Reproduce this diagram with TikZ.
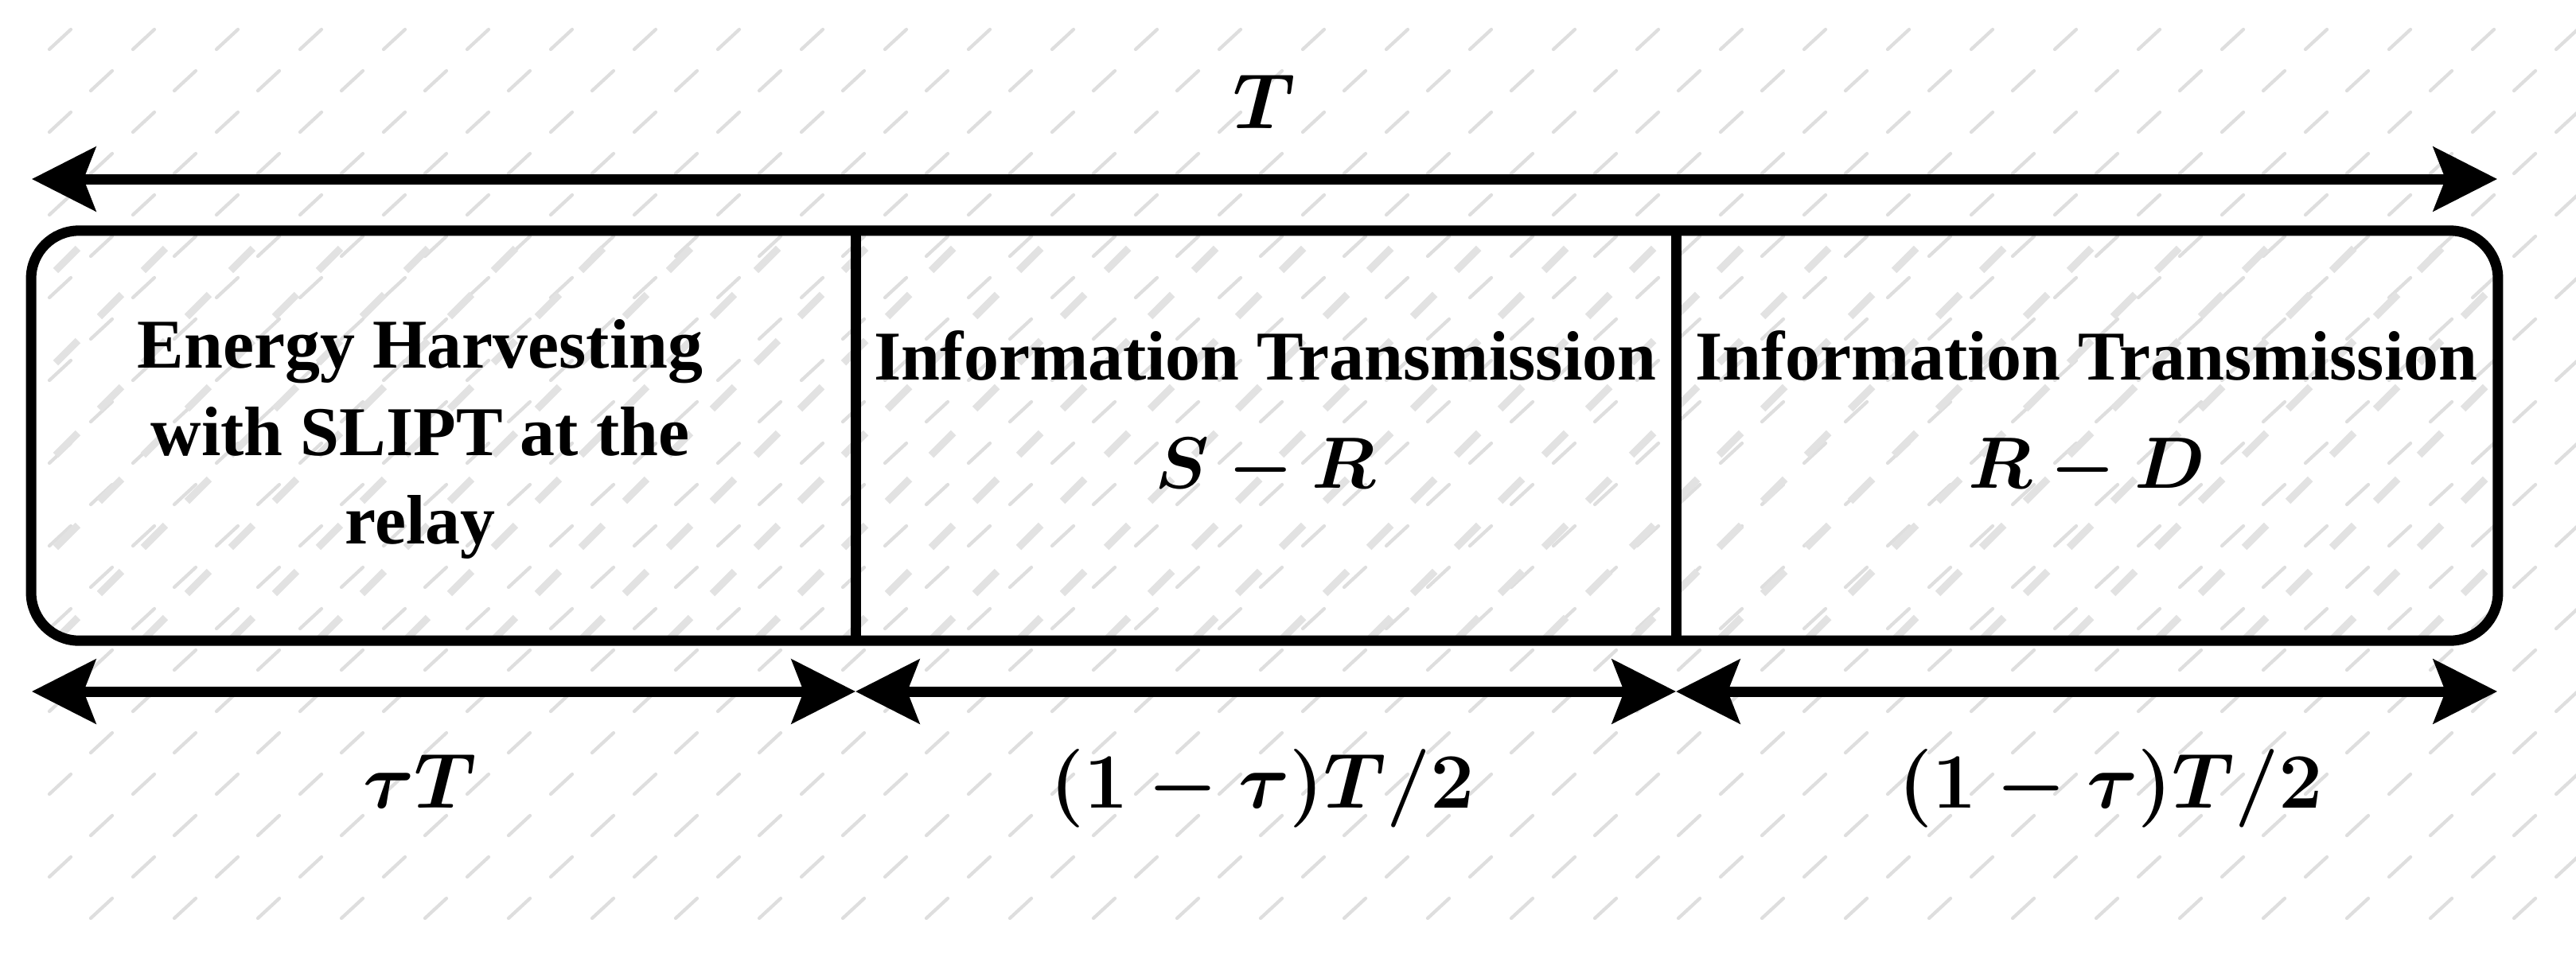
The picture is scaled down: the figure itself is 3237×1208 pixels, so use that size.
\RequirePackage{fix-cm}
\documentclass[tikz,border=0pt]{standalone}
\usepackage{fontspec}
\setmainfont{Liberation Serif}
\usetikzlibrary{arrows.meta}
\definecolor{hatch}{RGB}{222,222,222}
\definecolor{hatchin}{RGB}{226,226,226}
\begin{document}
\begin{tikzpicture}[x=0.01cm,y=-0.01cm,
  tipA/.tip={Stealth[length=0.8cm,width=0.8cm,inset=0.15cm]},
  dimline/.style={line width=3.7pt,tipA-tipA},
  frameline/.style={line width=3.7pt},
  lbl/.style={font=\bfseries\fontsize{25}{30}\selectfont, inner sep=0pt, anchor=base},
  mathlbl/.style={font=\fontsize{28}{34}\selectfont\boldmath, inner sep=0pt, anchor=base},
  boxmath/.style={font=\fontsize{26}{31}\selectfont\boldmath, inner sep=0pt, anchor=base},
  thinhatch/.style={draw=hatch, line width=1.2pt, line cap=round},
  thickhatch/.style={draw=hatchin, line width=2.6pt},
]
\useasboundingbox (0,0) rectangle (3237,1208);
\fill[white] (0,0) rectangle (3237,1208);
% background hatch
\foreach \i in {0,...,21} {
  \pgfmathsetmacro{\yy}{62+52*\i}
  \pgfmathsetmacro{\xo}{mod(\i,2)*52}
  \foreach \j in {0,...,30} {
    \draw[thinhatch] ({62+\xo+105*\j},\yy) -- ++(27,-25);
  }
}
% denser hatch inside the frame
\begin{scope}
  \clip[rounded corners=0.6cm] (40,290) rectangle (3138,805);
  \foreach \k in {0,...,9} {
    \pgfmathsetmacro{\yy}{340+58*\k}
    \pgfmathsetmacro{\xo}{mod(\k,2)*55}
    \foreach \j in {0,...,28} {
      \draw[thickhatch] ({70+\xo+110*\j},\yy) -- ++(28,-28);
    }
  }
\end{scope}
% frame
\node[draw, frameline, rounded corners=0.6cm, minimum width=30.98cm, minimum height=5.15cm, inner sep=0pt] (frame) at (1589,547.5) {};
\coordinate (d1t) at (1075,290);
\coordinate (d1b) at (1075,805);
\coordinate (d2t) at (2106,290);
\coordinate (d2b) at (2106,805);
\draw[frameline] (d1t) -- (d1b);
\draw[frameline] (d2t) -- (d2b);
% dimension arrows
\coordinate (tl) at (40,225);
\coordinate (tr) at (3138,225);
\draw[dimline] (tl) -- (tr);
\coordinate (b0) at (40,869);
\coordinate (b1) at (1075,869);
\coordinate (b2) at (2106,869);
\coordinate (b3) at (3138,869);
\draw[dimline] (b0) -- (b1);
\draw[dimline] (b1) -- (b2);
\draw[dimline] (b2) -- (b3);
% labels
\node[mathlbl] (Ttop) at (1589,161) {$T$};
\node[mathlbl] (l1) at (528,1015) {$\tau T$};
\node[mathlbl] (l2) at (1586,1015) {$(1-\tau)T/2$};
\node[mathlbl] (l3) at (2652,1015) {$(1-\tau)T/2$};
% texts
\node[lbl] (eh1) at (528,462) {Energy Harvesting};
\node[lbl] (eh2) at (528,572) {with SLIPT at the};
\node[lbl] (eh3) at (528,683) {relay};
\node[lbl] (it1) at (1590,477) {Information Transmission};
\node[boxmath] (sr) at (1590,613) {$S-R$};
\node[lbl] (it2) at (2622,477) {Information Transmission};
\node[boxmath] (rd) at (2622,613) {$R-D$};
\end{tikzpicture}
\end{document}
